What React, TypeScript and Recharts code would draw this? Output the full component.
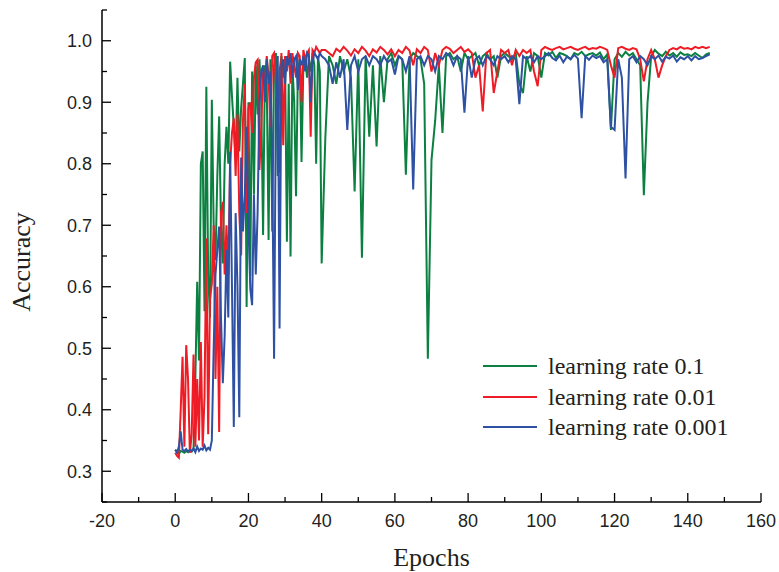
import { LineChart, Line, XAxis, YAxis, Legend } from 'recharts'

// ─── Data ────────────────────────────────────────────────────────
// epochs 0..40 sampled every half epoch, epochs 41..146 every epoch
const greenEarly = [
  0.335, 0.332, 0.328, 0.333, 0.332, 0.33, 0.333, 0.331, 0.334, 0.332,
  0.336, 0.45, 0.608, 0.48, 0.8, 0.82, 0.56, 0.925, 0.62, 0.55,
  0.904, 0.7, 0.643, 0.78, 0.877, 0.7, 0.638, 0.8, 0.86, 0.8,
  0.966, 0.91, 0.86, 0.81, 0.94, 0.82, 0.89, 0.93, 0.972, 0.567,
  0.9, 0.617, 0.95, 0.75, 0.96, 0.88, 0.97, 0.9, 0.684, 0.96,
  0.93, 0.676, 0.97, 0.69, 0.96, 0.98, 0.78, 0.95, 0.975, 0.94,
  0.97, 0.673, 0.93, 0.649, 0.96, 0.9, 0.747, 0.95, 0.97, 0.803,
  0.96, 0.975, 0.94, 0.97, 0.95, 0.98, 0.96, 0.8, 0.975, 0.95,
  0.638,
]
const greenLate = [
  0.842, 0.975, 0.96, 0.93, 0.975, 0.95, 0.97, 0.94, 0.755, 0.97,
  0.647, 0.975, 0.844, 0.96, 0.828, 0.975, 0.9, 0.97, 0.98, 0.96,
  0.975, 0.97, 0.782, 0.97, 0.98, 0.975, 0.97, 0.93, 0.483, 0.806,
  0.87, 0.96, 0.85, 0.975, 0.98, 0.97, 0.975, 0.95, 0.98, 0.97,
  0.975, 0.98, 0.96, 0.975, 0.98, 0.97, 0.975, 0.94, 0.975, 0.98,
  0.975, 0.97, 0.98, 0.93, 0.915, 0.975, 0.95, 0.98, 0.975, 0.94,
  0.98, 0.976, 0.982, 0.972, 0.98, 0.978, 0.975, 0.97, 0.98, 0.977,
  0.982, 0.975, 0.978, 0.98, 0.976, 0.981, 0.97, 0.978, 0.855, 0.97,
  0.98, 0.974, 0.982, 0.976, 0.98, 0.97, 0.96, 0.749, 0.899, 0.975,
  0.985, 0.979, 0.975, 0.982, 0.976, 0.98, 0.974, 0.981, 0.977, 0.978,
  0.975, 0.98, 0.976, 0.972, 0.978, 0.98,
]

const redEarly = [
  0.33, 0.325, 0.322, 0.4, 0.486, 0.34, 0.505, 0.45, 0.33, 0.36,
  0.49, 0.34, 0.45, 0.35, 0.51, 0.34, 0.42, 0.679, 0.36, 0.58,
  0.605, 0.7, 0.45, 0.6, 0.364, 0.72, 0.738, 0.62, 0.7, 0.62,
  0.8, 0.85, 0.874, 0.78, 0.88, 0.72, 0.651, 0.87, 0.93, 0.72,
  0.89, 0.9, 0.85, 0.94, 0.965, 0.969, 0.79, 0.86, 0.95, 0.93,
  0.975, 0.94, 0.86, 0.975, 0.98, 0.93, 0.89, 0.785, 0.98, 0.83,
  0.975, 0.95, 0.985, 0.93, 0.98, 0.96, 0.94, 0.98, 0.975, 0.9,
  0.985, 0.97, 0.98, 0.985, 0.844, 0.985, 0.98, 0.99, 0.985, 0.98,
  0.985,
]
const redLate = [
  0.985, 0.98, 0.975, 0.987, 0.982, 0.99, 0.984, 0.976, 0.986, 0.98,
  0.99, 0.984, 0.975, 0.986, 0.981, 0.99, 0.985, 0.978, 0.986, 0.975,
  0.985, 0.98, 0.99, 0.984, 0.96, 0.986, 0.98, 0.99, 0.985, 0.95,
  0.98, 0.96, 0.985, 0.99, 0.987, 0.98, 0.985, 0.99, 0.982, 0.986,
  0.98, 0.94, 0.96, 0.885, 0.98, 0.985, 0.915, 0.95, 0.985, 0.98,
  0.985, 0.96, 0.985, 0.975, 0.985, 0.98, 0.985, 0.95, 0.926, 0.985,
  0.99, 0.987, 0.985, 0.988, 0.99, 0.986, 0.988, 0.99, 0.987, 0.985,
  0.988, 0.99, 0.986, 0.988, 0.987, 0.99, 0.988, 0.985, 0.96, 0.94,
  0.988, 0.99, 0.987, 0.985, 0.988, 0.986, 0.97, 0.934, 0.97, 0.985,
  0.97, 0.94, 0.96, 0.975, 0.985, 0.988, 0.986, 0.99, 0.987, 0.988,
  0.986, 0.99, 0.988, 0.99, 0.988, 0.99,
]

const blueEarly = [
  0.335, 0.33, 0.34, 0.365, 0.335, 0.333, 0.336, 0.332, 0.335, 0.333,
  0.337, 0.331, 0.34, 0.333, 0.337, 0.335, 0.342, 0.334, 0.338, 0.335,
  0.35, 0.5, 0.62, 0.66, 0.698, 0.55, 0.443, 0.52, 0.66, 0.55,
  0.82, 0.6, 0.372, 0.72, 0.6, 0.388, 0.81, 0.69, 0.75, 0.86,
  0.7, 0.597, 0.57, 0.75, 0.62, 0.72, 0.9, 0.95, 0.96, 0.9,
  0.97, 0.93, 0.95, 0.8, 0.483, 0.9, 0.975, 0.532, 0.96, 0.97,
  0.93, 0.975, 0.96, 0.98, 0.94, 0.97, 0.975, 0.92, 0.97, 0.96,
  0.975, 0.95, 0.98, 0.975, 0.9, 0.965, 0.98, 0.975, 0.97, 0.98,
  0.975,
]
const blueLate = [
  0.97, 0.96, 0.93, 0.965, 0.94, 0.97, 0.855, 0.96, 0.975, 0.95,
  0.97, 0.975, 0.96, 0.975, 0.97, 0.96, 0.975, 0.965, 0.97, 0.945,
  0.975, 0.97, 0.95, 0.975, 0.758, 0.97, 0.975, 0.96, 0.975, 0.97,
  0.95, 0.975, 0.97, 0.98, 0.975, 0.96, 0.975, 0.97, 0.883, 0.975,
  0.94, 0.97, 0.975, 0.96, 0.975, 0.97, 0.96, 0.975, 0.97, 0.975,
  0.965, 0.975, 0.97, 0.897, 0.975, 0.97, 0.975, 0.965, 0.975, 0.97,
  0.975, 0.98, 0.972, 0.968, 0.976, 0.965, 0.974, 0.97, 0.977, 0.971,
  0.874, 0.975, 0.969, 0.976, 0.972, 0.975, 0.965, 0.97, 0.86, 0.855,
  0.97, 0.94, 0.776, 0.97, 0.975, 0.965, 0.975, 0.97, 0.96, 0.975,
  0.97, 0.976, 0.966, 0.974, 0.971, 0.976, 0.966, 0.973, 0.97, 0.975,
  0.968, 0.975, 0.97, 0.972, 0.975, 0.978,
]

const xTicks = [-20, -10, 0, 10, 20, 30, 40, 50, 60, 70, 80, 90, 100, 110, 120, 130, 140, 150, 160]
const yTicks = [0.25, 0.3, 0.35, 0.4, 0.45, 0.5, 0.55, 0.6, 0.65, 0.7, 0.75, 0.8, 0.85, 0.9, 0.95, 1.0, 1.05]
const legendOrder = ['learning rate 0.1', 'learning rate 0.01', 'learning rate 0.001']

const GREEN = '#0b8040'
const RED = '#ee1c25'
const BLUE = '#2f51a3'
const INK = '#231f20'
const SANS = '"Liberation Sans", Arial, sans-serif'
const SERIF = '"Liberation Serif", "Times New Roman", serif'

// plot frame, follows from the chart margins + axis sizes below
const MARGIN = { top: 10, right: 18, bottom: 30, left: 42 }
const Y_AXIS_W = 60
const X_AXIS_H = 40
const CHART_W = 779
const CHART_H = 572
const FRAME = {
  left: MARGIN.left + Y_AXIS_W,
  right: CHART_W - MARGIN.right,
  top: MARGIN.top,
  bottom: CHART_H - MARGIN.bottom - X_AXIS_H,
}

const data = [
  ...greenEarly.map((g, i) => ({ epoch: i / 2, g, r: redEarly[i], b: blueEarly[i] })),
  ...greenLate.map((g, i) => ({ epoch: 41 + i, g, r: redLate[i], b: blueLate[i] })),
]

const isMajorX = (v: number) => Math.round(v) % 20 === 0
const isMajorY = (v: number) => Math.round(v * 100) % 10 === 0

// ─── Ticks (drawn inward, like Origin) ──────────────────────────
const BottomTick = ({ x, payload }: any) => {
  const major = isMajorX(payload.value)
  const y = FRAME.bottom
  return (
    <g>
      <line x1={x} x2={x} y1={y} y2={y - (major ? 9 : 5)} stroke="#000" strokeWidth={1.3} />
      {major && (
        <text x={x} y={y + 25} textAnchor="middle" fontFamily={SANS} fontSize={18} fill={INK}>
          {payload.value}
        </text>
      )}
    </g>
  )
}

const TopTick = ({ x, payload }: any) => {
  const major = isMajorX(payload.value)
  const y = FRAME.top
  return <line x1={x} x2={x} y1={y} y2={y + (major ? 9 : 5)} stroke="#000" strokeWidth={1.3} />
}

const LeftTick = ({ y, payload }: any) => {
  const major = isMajorY(payload.value)
  const x = FRAME.left
  return (
    <g>
      <line x1={x} x2={x + (major ? 9 : 5)} y1={y} y2={y} stroke="#000" strokeWidth={1.3} />
      {major && (
        <text x={x - 10} y={y + 6.5} textAnchor="end" fontFamily={SANS} fontSize={18} fill={INK}>
          {payload.value.toFixed(1)}
        </text>
      )}
    </g>
  )
}

const RightTick = ({ y, payload }: any) => {
  const major = isMajorY(payload.value)
  const x = FRAME.right
  return <line x1={x} x2={x - (major ? 9 : 5)} y1={y} y2={y} stroke="#000" strokeWidth={1.3} />
}

const LegendBox = ({ payload }: any) => {
  const items = legendOrder
    .map((name) => (payload || []).find((p: any) => p.value === name))
    .filter(Boolean)
  return (
    <div style={{ fontFamily: SERIF, fontSize: 24, color: INK }}>
      {items.map((item: any) => (
        <div key={item.value} style={{ display: 'flex', alignItems: 'center', height: 30.5 }}>
          <div style={{ width: 54, height: 2, background: item.color, marginRight: 11 }} />
          <span style={{ whiteSpace: 'nowrap', lineHeight: '30px' }}>{item.value}</span>
        </div>
      ))}
    </div>
  )
}

const axisLine = { stroke: '#000', strokeWidth: 1.5 }

export default function App() {
  return (
    <div style={{ position: 'absolute', left: 0, top: 0, width: CHART_W, height: CHART_H, background: '#fff' }}>
      <LineChart width={CHART_W} height={CHART_H} data={data} margin={MARGIN}>
        <XAxis
          dataKey="epoch"
          type="number"
          domain={[-20, 160]}
          ticks={xTicks}
          interval={0}
          height={X_AXIS_H}
          tickLine={false}
          axisLine={axisLine}
          tick={<BottomTick />}
        />
        <XAxis
          xAxisId="top"
          orientation="top"
          dataKey="epoch"
          type="number"
          domain={[-20, 160]}
          ticks={xTicks}
          interval={0}
          height={0}
          tickLine={false}
          axisLine={axisLine}
          tick={<TopTick />}
        />
        <YAxis
          type="number"
          domain={[0.25, 1.05]}
          ticks={yTicks}
          interval={0}
          width={Y_AXIS_W}
          tickLine={false}
          axisLine={axisLine}
          tick={<LeftTick />}
          allowDataOverflow
        />
        <YAxis
          yAxisId="right"
          orientation="right"
          type="number"
          domain={[0.25, 1.05]}
          ticks={yTicks}
          interval={0}
          width={0}
          tickLine={false}
          axisLine={axisLine}
          tick={<RightTick />}
          allowDataOverflow
        />
        <Legend
          layout="vertical"
          align="center"
          verticalAlign="middle"
          content={<LegendBox />}
          wrapperStyle={{ left: 483, top: 351, width: 280, height: 93 }}
        />
        <Line type="linear" dataKey="g" name="learning rate 0.1" stroke={GREEN} strokeWidth={2} dot={false} isAnimationActive={false} />
        <Line type="linear" dataKey="r" name="learning rate 0.01" stroke={RED} strokeWidth={2} dot={false} isAnimationActive={false} />
        <Line type="linear" dataKey="b" name="learning rate 0.001" stroke={BLUE} strokeWidth={2} dot={false} isAnimationActive={false} />
      </LineChart>
      <div style={{ position: 'absolute', left: 0, width: CHART_W, top: 543, textAlign: 'center', paddingLeft: 84, boxSizing: 'border-box', fontFamily: SERIF, fontSize: 26, color: INK }}>
        Epochs
      </div>
      <div
        style={{
          position: 'absolute',
          left: 22,
          top: 262,
          transform: 'translate(-50%, -50%) rotate(-90deg)',
          fontFamily: SERIF,
          fontSize: 26,
          color: INK,
          whiteSpace: 'nowrap',
        }}
      >
        Accuracy
      </div>
    </div>
  )
}
